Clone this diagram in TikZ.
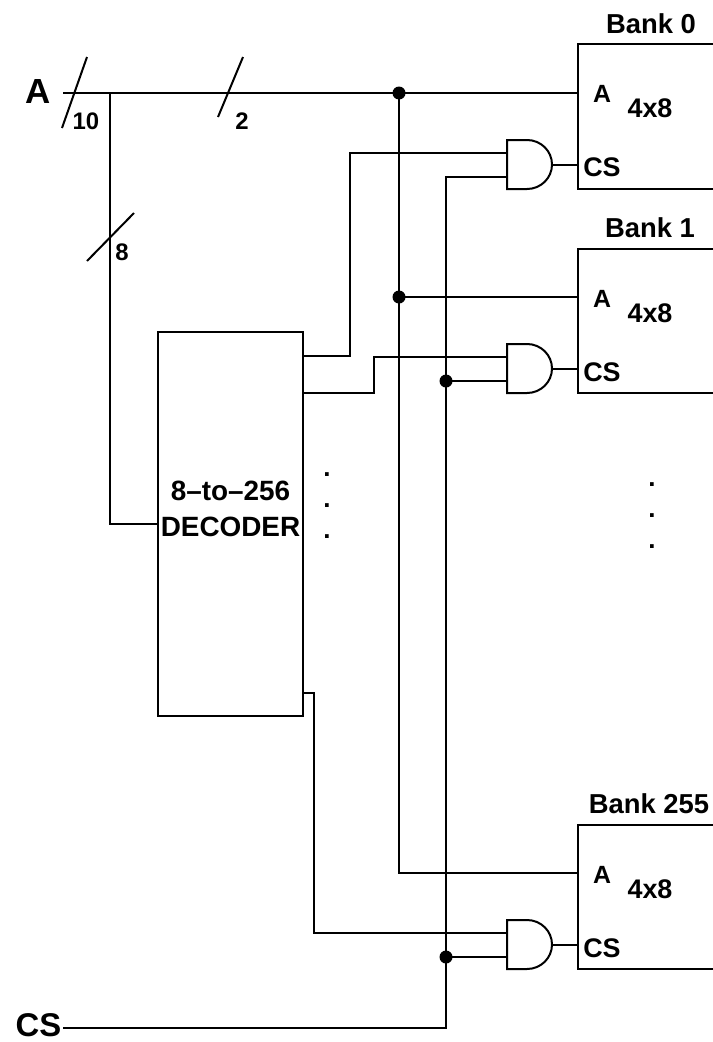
\documentclass[tikz,border=0pt]{standalone}
\usepackage{fontspec}
\setmainfont{Liberation Sans}
\begin{document}
\begin{tikzpicture}[x=1bp,y=-1bp,line width=2bp,line join=miter,
  lbl/.style={inner sep=0pt,font=\bfseries\fontsize{#1}{#1}\selectfont},
  jdot/.style={fill,radius=6.5},
  andgate/.pic={
    \draw (20,0) -- (0,0) -- (0,49) -- (20,49)
      arc[start angle=90,end angle=-90,x radius=25,y radius=24.5] -- cycle;
    \coordinate (-in1) at (0,13);
    \coordinate (-in2) at (0,37);
    \coordinate (-out) at (45,24.5);
  }]
\useasboundingbox (0,0) rectangle (713,1042);

% banks
\draw (713,44) -- (578,44) -- (578,189) -- (713,189);
\draw (713,249) -- (578,249) -- (578,393) -- (713,393);
\draw (713,825) -- (578,825) -- (578,969) -- (713,969);
\coordinate (b0A) at (578,93);   \coordinate (b0CS) at (578,164.5);
\coordinate (b1A) at (578,297);  \coordinate (b1CS) at (578,368.5);
\coordinate (b2A) at (578,873);  \coordinate (b2CS) at (578,944.5);

\node[lbl=27.5] (bank0) at (651,24) {Bank 0};
\node[lbl=27.5] (bank1) at (650,228) {Bank 1};
\node[lbl=27.5] (bank2) at (649,804) {Bank 255};
\foreach \t/\n in {44/0,249/1,825/2}{
  \node[lbl=25] (ba\n) at (602,\t+50) {A};
  \node[lbl=27] (bs\n) at (650,\t+64) {4x8};
  \node[lbl=27] (bc\n) at (602,\t+123) {CS};
}

% gates
\pic (g0) at (507,140) {andgate};
\pic (g1) at (507,344) {andgate};
\pic (g2) at (507,920) {andgate};
\draw (g0-out) -- (b0CS);
\draw (g1-out) -- (b1CS);
\draw (g2-out) -- (b2CS);

% decoder
\node[draw,minimum width=145bp,minimum height=384bp,inner sep=0pt] (dec) at (230.5,524) {};
\node[inner sep=0pt,align=center,font=\bfseries\fontsize{28}{36}\selectfont] (dectxt) at (230.5,509) {8--to--256\\DECODER};

% address bus
\node[lbl=35] (Alab) at (38.5,92) {A};
\coordinate (Ain) at (63,93);
\coordinate (jA) at (110,93);
\coordinate (jB) at (399,93);
\coordinate (jC) at (399,297);
\draw (Ain) -- (b0A);
\draw (jA) |- (dec.west);
\draw (jB) |- (b2A);
\draw (jC) -- (b1A);
\fill[jdot] (jB) circle;
\fill[jdot] (jC) circle;

% bus slashes and widths
\draw (62,128) -- (87,57);
\draw (218,117) -- (243,57);
\draw (87,261) -- (134,213);
\node[lbl=24] (w10) at (86,121.5) {10};
\node[lbl=24] (w2) at (242,121.5) {2};
\node[lbl=24] (w8) at (122,252.5) {8};

% decoder outputs
\coordinate (d0) at (dec.east |- 0,356);
\coordinate (d1) at (dec.east |- 0,393);
\coordinate (d2) at (dec.east |- 0,693);
\draw (d0) -| (350,153) -- (g0-in1);
\draw (d1) -| (374,357) -- (g1-in1);
\draw (d2) -| (314,933) -- (g2-in1);

% chip select
\node[lbl=33] (CSlab) at (38.5,1025.5) {CS};
\coordinate (CSin) at (63,1028);
\coordinate (k1) at (446,381);
\coordinate (k2) at (446,957);
\draw (CSin) -| (446,177) -- (g0-in2);
\draw (k1) -- (g1-in2);
\draw (k2) -- (g2-in2);
\fill[jdot] (k1) circle;
\fill[jdot] (k2) circle;

% ellipsis dots
\foreach \y [count=\i] in {475,506,537}{
  \node[lbl=26] (el\i) at (327,\y) {.};
}
\foreach \y [count=\i] in {485,516,547}{
  \node[lbl=26] (er\i) at (652,\y) {.};
}
\end{tikzpicture}
\end{document}
